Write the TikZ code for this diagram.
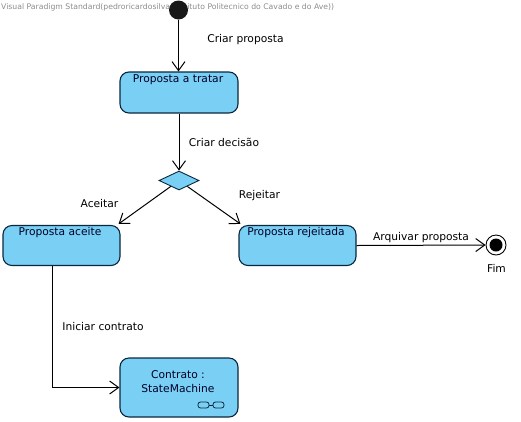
\documentclass[tikz,border=0pt]{standalone}
\usepackage{fontspec}
\setmainfont{DejaVu Sans}
\usetikzlibrary{arrows.meta,shapes.geometric}
\definecolor{fillblue}{RGB}{122,207,245}
\definecolor{edgeblue}{RGB}{10,40,60}
\tikzset{
  x=1pt,y=-1pt,
  statebox/.style={draw=edgeblue,fill=fillblue,line width=1.1pt,rounded corners=9pt,minimum width=#1,inner sep=0pt},
  lbl/.style={font=\fontsize{10.7}{12}\selectfont,text=black,inner sep=0pt},
  inbox/.style={font=\fontsize{10.7}{14}\selectfont,text=black!85!blue,inner sep=0pt,align=center},
  flow/.style={draw=black,line width=1pt,-{Straight Barb[length=9pt,width=13pt,line width=1pt]}},
}
\begin{document}
\begin{tikzpicture}
\useasboundingbox (0,0) rectangle (521,421);
\node[anchor=west,inner sep=0pt,text=black!45,font=\fontsize{7.7}{9}\selectfont] (wm) at (1,7) {Visual Paradigm Standard(pedroricardosilva(Instituto Politecnico do Cavado e do Ave))};
\node[circle,fill=black!90,minimum size=19pt,inner sep=0pt] (init) at (178.5,10) {};
\node[statebox=118pt,minimum height=41pt] (tratar) at (179,92.5) {};
\node[inbox] (ttratar) at (178,80) {Proposta a tratar};
\node[diamond,draw=edgeblue,fill=fillblue,line width=0.9pt,minimum width=40pt,minimum height=19pt,inner sep=0pt] (dec) at (179,180.5) {};
\node[statebox=117pt,minimum height=40pt] (aceite) at (61.5,245.5) {};
\node[inbox] (taceite) at (60,233) {Proposta aceite};
\node[statebox=117pt,minimum height=40pt] (rej) at (297.5,245.5) {};
\node[inbox] (trej) at (296,233) {Proposta rejeitada};
\node[statebox=118pt,minimum height=59pt] (contrato) at (179,387.5) {};
\node[inbox] (tcontrato) at (178,382) {Contrato :\\StateMachine};
\node[circle,draw=black,fill=white,line width=0.9pt,minimum size=20pt,inner sep=0pt] (fim) at (496,245) {};
\node[circle,fill=black,minimum size=13pt,inner sep=0pt] (fimin) at (496,245) {};
\draw[flow] (init) -- (tratar.north -| init);
\draw[flow] (tratar.south) -- (dec.north);
\draw[flow] (dec) -- ([xshift=-2pt,yshift=1pt]aceite.north east);
\draw[flow] (dec) -- ([xshift=2pt,yshift=1pt]rej.north west);
\draw[flow] (rej.east) -- (fim.west);
\draw[flow] ([xshift=-9.5pt]aceite.south) |- (contrato.west);
\node[lbl] (l1) at (245.5,39.5) {Criar proposta};
\node[lbl] (l2) at (224,142.5) {Criar decisão};
\node[lbl] (l3) at (99.5,204) {Aceitar};
\node[lbl] (l4) at (259.5,195.5) {Rejeitar};
\node[lbl] (l5) at (421,237.5) {Arquivar proposta};
\node[lbl] (l6) at (496.5,268.5) {Fim};
\node[lbl] (l7) at (103,326.5) {Iniciar contrato};
\draw[edgeblue,line width=0.8pt,rounded corners=2.5pt] (198,402) rectangle (209,408);
\draw[edgeblue,line width=0.8pt,rounded corners=2.5pt] (213,402) rectangle (224,408);
\draw[edgeblue,line width=0.8pt] (209,405) -- (213,405);
\end{tikzpicture}
\end{document}
